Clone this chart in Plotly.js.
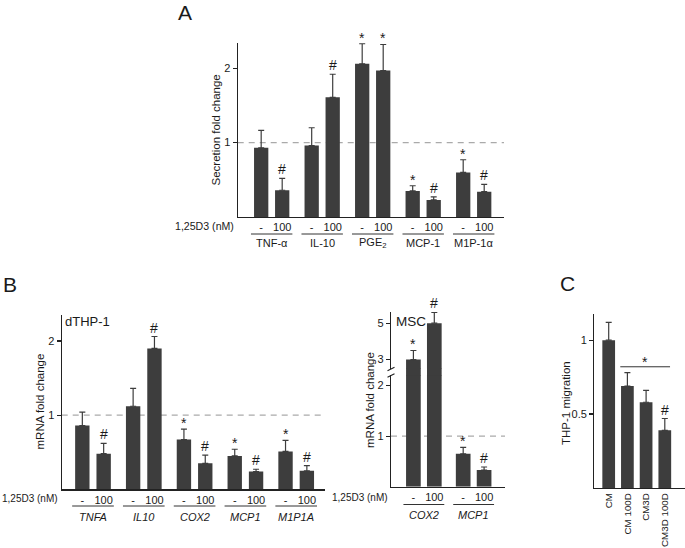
<!DOCTYPE html>
<html>
<head>
<meta charset="utf-8">
<script src="https://cdn.plot.ly/plotly-3.0.1.min.js"></script>
<style>html,body{margin:0;padding:0;background:#fff;}#chart{width:685px;height:548px;}</style>
</head>
<body>
<div id="chart"></div>
<script>
// ---------- DATA ----------
// Panel A: secretion fold change
const catsA = ['TNF-α', 'IL-10', 'PGE<sub>2</sub>', 'MCP-1', 'M1P-1α'];
const ctrlA = [0.93, 0.96, 2.06, 0.35, 0.60];
const ctrlErrA = [0.235, 0.24, 0.27, 0.07, 0.17];
const trtA = [0.36, 1.61, 1.97, 0.23, 0.34];
const trtErrA = [0.16, 0.31, 0.35, 0.04, 0.10];
const sigCtrlA = ['', '', '*', '*', '*'];
const sigTrtA = ['#', '#', '*', '#', '#'];

// Panel B (dTHP-1): mRNA fold change
const catsB = ['TNFA', 'IL10', 'COX2', 'MCP1', 'M1P1A'];
const ctrlB = [0.86, 1.12, 0.67, 0.45, 0.51];
const ctrlErrB = [0.18, 0.24, 0.14, 0.09, 0.15];
const trtB = [0.48, 1.90, 0.35, 0.24, 0.25];
const trtErrB = [0.14, 0.16, 0.11, 0.03, 0.07];
const sigCtrlB = ['', '', '*', '*', '*'];
const sigTrtB = ['#', '#', '#', '#', '#'];

// Panel B (MSC): mRNA fold change (broken axis)
const catsM = ['COX2', 'MCP1'];
const ctrlM = [3.0, 0.65];
const ctrlErrM = [0.5, 0.13];
const trtM = [5.0, 0.33];
const trtErrM = [0.6, 0.06];
const sigCtrlM = ['*', '*'];
const sigTrtM = ['#', '#'];

// Panel C: THP-1 migration
const catsC = ['CM', 'CM 100D', 'CM3D', 'CM3D 100D'];
const valC = [1.0, 0.69, 0.58, 0.39];
const errC = [0.12, 0.09, 0.08, 0.08];
const sigC = ['', '', '', '#'];
const bracketC = {from: 1, to: 3, y: 0.82, label: '*'};

const doseLabels = ['-', '100'];
const doseTitle = '1,25D3 (nM)';

// ---------- STYLE / LAYOUT HELPERS ----------
const W = 685, H = 548;
const px = x => x / W;
const py = y => 1 - y / H;
const F = '"Liberation Sans", Arial, sans-serif';
const BAR = '#3d3d3d';
const AX = '#222';
const TXT = '#1a1a1a';

const traces = [];
const annotations = [];
const shapes = [];

function pairedPanel(o) {
  const xs = [], ys = [], es = [], sig = [], tickvals = [], ticktext = [];
  o.cats.forEach((c, i) => {
    xs.push(i - o.off, i + o.off);
    ys.push(o.ctrl[i], o.trt[i]);
    es.push(o.ctrlErr[i], o.trtErr[i]);
    sig.push(o.sigCtrl[i], o.sigTrt[i]);
    tickvals.push(i - o.off, i + o.off);
    ticktext.push(doseLabels[0], doseLabels[1]);
  });
  return {xs, ys, es, sig, tickvals, ticktext};
}

function addSig(x, yTop, txt, xref, yref) {
  if (!txt) return;
  annotations.push({x: x, y: yTop, xref: xref, yref: yref, text: txt, showarrow: false,
    xanchor: 'center', yanchor: 'bottom', yshift: txt === '*' ? -4 : -1,
    font: {family: F, size: 14, color: TXT}});
}

function paperText(text, x, y, size, opts) {
  annotations.push(Object.assign({x: px(x), y: py(y), xref: 'paper', yref: 'paper', text: text,
    showarrow: false, xanchor: 'center', yanchor: 'middle', font: {family: F, size: size, color: TXT}}, opts || {}));
}

function groupLabels(cats, xref, lineY, textY, italic, half) {
  cats.forEach((c, i) => {
    shapes.push({type: 'line', xref: xref, yref: 'paper', x0: i - half, x1: i + half,
      y0: py(lineY), y1: py(lineY), line: {color: '#333', width: 1}});
    annotations.push({x: i, y: py(textY), xref: xref, yref: 'paper',
      text: italic ? '<i>' + c + '</i>' : c, showarrow: false, xanchor: 'center', yanchor: 'middle',
      font: {family: F, size: 11, color: TXT}});
  });
}

function dashed(xref, yref) {
  shapes.push({type: 'line', xref: xref + ' domain', yref: yref, x0: 0, x1: 1, y0: 1, y1: 1,
    line: {color: '#aaa', width: 1.3, dash: '6px,5px'}, layer: 'below'});
}

const errStyle = (arr) => ({type: 'data', array: arr, symmetric: false, arrayminus: arr.map(() => 0),
  color: BAR, thickness: 1.2, width: 3});

// ---------- PANEL A ----------
const A = pairedPanel({cats: catsA, ctrl: ctrlA, trt: trtA, ctrlErr: ctrlErrA, trtErr: trtErrA,
  sigCtrl: sigCtrlA, sigTrt: sigTrtA, off: 0.208});
traces.push({type: 'bar', x: A.xs, y: A.ys, width: 0.283, marker: {color: BAR},
  error_y: errStyle(A.es), xaxis: 'x', yaxis: 'y', hoverinfo: 'skip'});
A.xs.forEach((x, k) => addSig(x, A.ys[k] + A.es[k], A.sig[k], 'x', 'y'));
groupLabels(catsA, 'x', 234, 243.5, false, 0.41);
paperText(doseTitle, 236, 226.5, 10.6, {xanchor: 'right'});
dashed('x', 'y');
paperText('Secretion fold change', 215.5, 130, 11.5, {textangle: -90});

// ---------- PANEL B dTHP-1 ----------
const B = pairedPanel({cats: catsB, ctrl: ctrlB, trt: trtB, ctrlErr: ctrlErrB, trtErr: trtErrB,
  sigCtrl: sigCtrlB, sigTrt: sigTrtB, off: 0.21});
traces.push({type: 'bar', x: B.xs, y: B.ys, width: 0.283, marker: {color: BAR},
  error_y: errStyle(B.es), xaxis: 'x2', yaxis: 'y2', hoverinfo: 'skip'});
B.xs.forEach((x, k) => addSig(x, B.ys[k] + B.es[k], B.sig[k], 'x2', 'y2'));
groupLabels(catsB, 'x2', 506, 516.5, true, 0.41);
paperText(doseTitle, 60, 498.5, 10, {xanchor: 'right'});
dashed('x2', 'y2');
paperText('mRNA fold change', 39.5, 402, 11.5, {textangle: -90});
paperText('dTHP-1', 63, 321.5, 13, {xanchor: 'left'});

// ---------- PANEL B MSC (broken axis) ----------
const lowMax = 2.21, upMin = 2.51, upMax = 5.62;
const breakLo = 375, breakHi = 368.5;
const M = pairedPanel({cats: catsM, ctrl: ctrlM, trt: trtM, ctrlErr: ctrlErrM, trtErr: trtErrM,
  sigCtrl: sigCtrlM, sigTrt: sigTrtM, off: 0.21});
const wM = 0.295;
traces.push({type: 'bar', x: M.xs, y: M.ys, width: wM, marker: {color: BAR},
  error_y: errStyle(M.es.map((e, k) => M.ys[k] > lowMax ? 0 : e)), xaxis: 'x3', yaxis: 'y3', hoverinfo: 'skip'});
const upIdx = M.ys.map((v, k) => k).filter(k => M.ys[k] > lowMax);
traces.push({type: 'bar', x: upIdx.map(k => M.xs[k]), y: upIdx.map(k => M.ys[k]), width: wM,
  marker: {color: BAR}, error_y: errStyle(upIdx.map(k => M.es[k])), xaxis: 'x3', yaxis: 'y4', hoverinfo: 'skip'});
// keep tall bars continuous across the axis break
upIdx.forEach(k => shapes.push({type: 'rect', xref: 'x3', yref: 'paper', x0: M.xs[k] - wM / 2, x1: M.xs[k] + wM / 2,
  y0: py(breakLo + 0.5), y1: py(breakHi - 0.5), fillcolor: BAR, line: {width: 0}}));
M.xs.forEach((x, k) => addSig(x, M.ys[k] + M.es[k], M.sig[k], 'x3', M.ys[k] > lowMax ? 'y4' : 'y3'));
groupLabels(catsM, 'x3', 504.5, 515, true, 0.41);
paperText(doseTitle, 390, 497.5, 10, {xanchor: 'right'});
dashed('x3', 'y3');
[breakHi + 0.5, breakLo + 0.5].forEach(yy => shapes.push({type: 'line', xref: 'paper', yref: 'paper',
  x0: px(387.5), x1: px(394.5), y0: py(yy + 1.8), y1: py(yy - 1.8), line: {color: AX, width: 1.2}}));
paperText('mRNA fold change', 370, 400, 11.5, {textangle: -90});
paperText('MSC', 394, 321, 13.5, {xanchor: 'left'});

// ---------- PANEL C ----------
const xC = catsC.map((c, i) => i);
traces.push({type: 'bar', x: xC, y: valC, width: 0.68, marker: {color: BAR},
  error_y: errStyle(errC), xaxis: 'x4', yaxis: 'y5', hoverinfo: 'skip'});
xC.forEach((x, k) => addSig(x, valC[k] + errC[k], sigC[k], 'x4', 'y5'));
shapes.push({type: 'line', xref: 'x4', yref: 'y5', x0: bracketC.from - 0.38, x1: bracketC.to + 0.28,
  y0: bracketC.y, y1: bracketC.y, line: {color: '#333', width: 1}});
annotations.push({x: (bracketC.from + bracketC.to) / 2 - 0.05, y: bracketC.y, xref: 'x4', yref: 'y5',
  text: bracketC.label, showarrow: false, xanchor: 'center', yanchor: 'bottom', yshift: -5,
  font: {family: F, size: 14, color: TXT}});
paperText('THP-1 migration', 566, 403, 11.5, {textangle: -90});

// Panel letters
paperText('A', 185, 12.5, 21);
paperText('B', 9.5, 284, 21);
paperText('C', 567, 283, 21);

// ---------- AXES ----------
const tickFont = {family: F, size: 11, color: TXT};
const xBase = {showline: true, linecolor: AX, linewidth: 1.2, ticks: '', showgrid: false, zeroline: false,
  tickfont: tickFont, fixedrange: true, tickmode: 'array'};
const yBase = {showline: true, linecolor: AX, linewidth: 1.2, ticks: 'outside', ticklen: 4, tickwidth: 1.2,
  tickcolor: AX, showgrid: false, zeroline: false, tickfont: tickFont, fixedrange: true, tickmode: 'array'};

const layout = {
  width: W, height: H, margin: {l: 0, r: 0, t: 0, b: 0}, showlegend: false,
  paper_bgcolor: '#fff', plot_bgcolor: 'rgba(0,0,0,0)', barmode: 'overlay',
  xaxis: Object.assign({}, xBase, {domain: [px(237.7), px(504)], range: [-0.673, 4.6], anchor: 'y',
    tickvals: A.tickvals, ticktext: A.ticktext}),
  yaxis: Object.assign({}, yBase, {domain: [py(217), py(43)], range: [0, 2.34], anchor: 'x',
    tickvals: [1, 2], ticktext: ['1', '2']}),
  xaxis2: Object.assign({}, xBase, {domain: [px(61.7), px(325)], range: [-0.616, 4.567], anchor: 'y2',
    tickvals: B.tickvals, ticktext: B.ticktext}),
  yaxis2: Object.assign({}, yBase, {domain: [py(489.3), py(315)], range: [0, 2.35], anchor: 'x2',
    tickvals: [1, 2], ticktext: ['1', '2']}),
  xaxis3: Object.assign({}, xBase, {domain: [px(391), px(505)], range: [-0.66, 1.63], anchor: 'y3',
    tickvals: M.tickvals, ticktext: M.ticktext}),
  yaxis3: Object.assign({}, yBase, {domain: [py(486.7), py(breakLo)], range: [0, lowMax], anchor: 'x3',
    tickvals: [1, 2], ticktext: ['1', '2']}),
  yaxis4: Object.assign({}, yBase, {domain: [py(breakHi), py(360 - (upMax - 3) * 18.35)], range: [upMin, upMax],
    anchor: 'x3', tickvals: [3, 5], ticktext: ['3', '5']}),
  xaxis4: Object.assign({}, xBase, {domain: [px(594.3), 1], range: [-0.77, 4.08], anchor: 'y5',
    tickvals: xC, ticktext: catsC, tickangle: -90, tickfont: {family: F, size: 9.8, color: TXT}}),
  yaxis5: Object.assign({}, yBase, {domain: [py(488), py(314.3)], range: [0, 1.175], anchor: 'x4',
    tickvals: [0.5, 1], ticktext: ['0.5', '1']}),
  annotations: annotations,
  shapes: shapes
};

Plotly.newPlot('chart', traces, layout, {staticPlot: true, displayModeBar: false});
</script>
</body>
</html>
